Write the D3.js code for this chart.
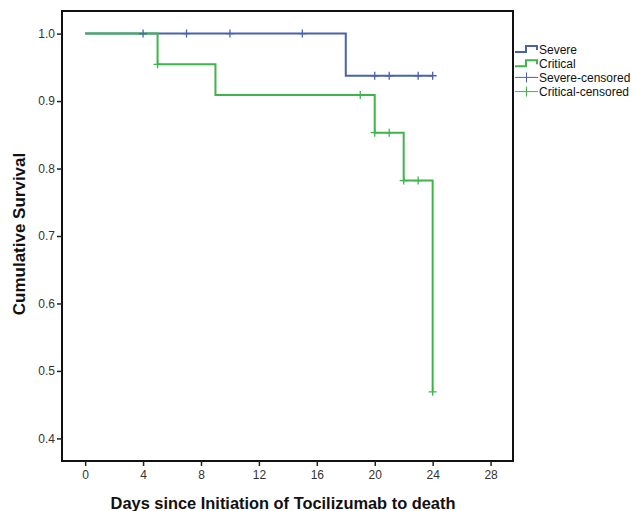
<!DOCTYPE html>
<html>
<head>
<meta charset="utf-8">
<script src="https://cdn.jsdelivr.net/npm/d3@7"></script>
<style>
  body { margin: 0; background: #fff; }
  text { font-family: "Liberation Sans", Arial, sans-serif; }
</style>
</head>
<body>
<script>
// Kaplan-Meier steps: [day, survival]
var severeSteps = [[0, 1.0], [18, 0.9375], [24, 0.9375]];
var criticalSteps = [[0, 1.0], [5, 0.9545], [9, 0.9091], [20, 0.8531], [22, 0.7821], [24, 0.4690], [24, 0.4690]];
// censored points
var severeCensored = [[4, 1.0], [7, 1.0], [10, 1.0], [15, 1.0], [20, 0.9375], [21, 0.9375], [23, 0.9375], [24, 0.9375]];
var criticalCensored = [[5, 0.9545], [19, 0.9091], [20, 0.8531], [21, 0.8531], [22, 0.7821], [23, 0.7821], [24, 0.4690]];
var xTicks = [0, 4, 8, 12, 16, 20, 24, 28];
var yTicks = [0.4, 0.5, 0.6, 0.7, 0.8, 0.9, 1.0];
var legendNames = ["Severe", "Critical", "Severe-censored", "Critical-censored"];

var blue = "#4a62ad";
var green = "#3db54a";

var w = 633, h = 511;
// plot frame (note: "top" is reserved on window, so use mTop etc.)
var mLeft = 62, mRight = 513, mTop = 11, mBottom = 461;

var svg = d3.select("body").append("svg")
    .attr("width", w)
    .attr("height", h);

var x = d3.scaleLinear().domain([-1.6, 29.55]).range([mLeft, mRight]);
var y = d3.scaleLinear().domain([0.3665, 1.0335]).range([mBottom, mTop]);

// frame
svg.append("rect")
    .attr("x", mLeft).attr("y", mTop)
    .attr("width", mRight - mLeft).attr("height", mBottom - mTop)
    .attr("fill", "none").attr("stroke", "#111").attr("stroke-width", 2);

// y axis
var yAxis = svg.append("g")
    .attr("transform", "translate(" + mLeft + ",0)")
    .call(d3.axisLeft(y).tickValues(yTicks).tickFormat(d3.format(".1f")).tickSize(5).tickPadding(2));
yAxis.select(".domain").remove();
yAxis.selectAll("line").attr("stroke", "#222").attr("stroke-width", 1.5);
yAxis.selectAll("text").attr("font-size", 12).attr("fill", "#333")
    .style("font-family", "'Liberation Sans', Arial, sans-serif");

// x axis
var xAxis = svg.append("g")
    .attr("transform", "translate(0," + mBottom + ")")
    .call(d3.axisBottom(x).tickValues(xTicks).tickSize(5).tickPadding(4));
xAxis.select(".domain").remove();
xAxis.selectAll("line").attr("stroke", "#222").attr("stroke-width", 1.5);
xAxis.selectAll("text").attr("font-size", 12).attr("fill", "#333")
    .style("font-family", "'Liberation Sans', Arial, sans-serif");

// axis titles
svg.append("text")
    .attr("x", 283).attr("y", 509)
    .attr("text-anchor", "middle")
    .attr("font-size", 16.4).attr("font-weight", "bold").attr("fill", "#111")
    .text("Days since Initiation of Tocilizumab to death");

svg.append("text")
    .attr("transform", "translate(24.5,234) rotate(-90)")
    .attr("text-anchor", "middle")
    .attr("font-size", 17).attr("font-weight", "bold").attr("fill", "#111")
    .text("Cumulative Survival");

// step curves
var line = d3.line()
    .x(function (d) { return x(d[0]); })
    .y(function (d) { return y(d[1]); })
    .curve(d3.curveStepAfter);

svg.append("path").datum(severeSteps)
    .attr("d", line).attr("fill", "none")
    .attr("stroke", blue).attr("stroke-width", 2);

svg.append("path").datum(criticalSteps)
    .attr("d", line).attr("fill", "none")
    .attr("stroke", green).attr("stroke-width", 2);

// censor marks
function drawCensor(data, color) {
    svg.selectAll(null).data(data).enter()
        .append("path")
        .attr("d", function (d) {
            var cx = x(d[0]), cy = y(d[1]);
            return "M" + (cx - 4) + "," + cy + "H" + (cx + 4) + "M" + cx + "," + (cy - 4) + "V" + (cy + 4);
        })
        .attr("stroke", color).attr("stroke-width", 1.3).attr("fill", "none");
}
drawCensor(severeCensored, blue);
drawCensor(criticalCensored, green);

// legend
var lx = 515, ly = 49, step = 14.2;
var legendColors = [blue, green, blue, green];
legendNames.forEach(function (name, i) {
    var cy = ly + i * step;
    if (i < 2) {
        svg.append("path")
            .attr("d", "M" + lx + "," + (cy + 3) + "H" + (lx + 11) + "V" + (cy - 3) + "H" + (lx + 22) + "V" + (cy + 1))
            .attr("fill", "none").attr("stroke", legendColors[i]).attr("stroke-width", 2);
    } else {
        svg.append("path")
            .attr("d", "M" + lx + "," + cy + "H" + (lx + 23) + "M" + (lx + 11.5) + "," + (cy - 5) + "V" + (cy + 5))
            .attr("fill", "none").attr("stroke", legendColors[i]).attr("stroke-width", 1);
    }
    svg.append("text")
        .attr("x", lx + 24).attr("y", cy + 4.5)
        .attr("font-size", 12).attr("fill", "#111")
        .text(name);
});
</script>
</body>
</html>
